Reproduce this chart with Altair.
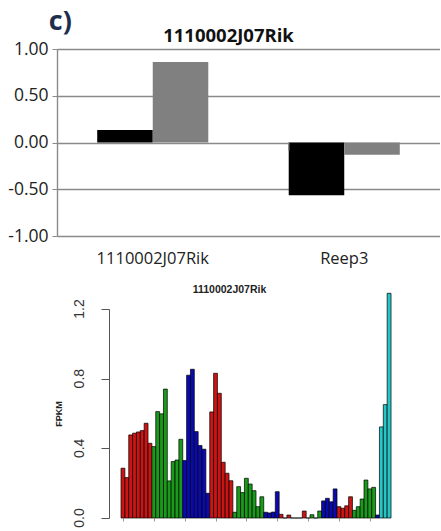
import altair as alt
import pandas as pd

# ---- top panel: relative change for two genes ----
genes = ["1110002J07Rik", "Reep3"]
series_names = ["A", "B"]
series_a = [0.135, -0.563]
series_b = [0.86, -0.132]

# ---- bottom panel: FPKM per sample, grouped by tissue colour ----
group_keys = ["red", "green", "blue", "red", "green", "blue", "red",
              "green", "blue", "red", "green", "blue", "cyan"]
group_sizes = [8, 8, 7, 6, 8, 4, 7, 4, 4, 4, 6, 1, 3]
fpkm = [
    0.286, 0.232, 0.477, 0.487, 0.494, 0.502, 0.544, 0.429,
    0.41, 0.611, 0.598, 0.74, 0.213, 0.324, 0.333, 0.452,
    0.33, 0.82, 0.854, 0.496, 0.416, 0.395, 0.142,
    0.609, 0.831, 0.716, 0.32, 0.257, 0.214,
    0.033, 0.18, 0.146, 0.228, 0.195, 0.157, 0.065, 0.122,
    0.033, 0.029, 0.034, 0.151,
    0.021, 0.0, 0.017, 0.0, 0.0, 0.0, 0.04,
    0.0, 0.019, 0.0, 0.04,
    0.098, 0.113, 0.093, 0.167,
    0.065, 0.056, 0.07, 0.122,
    0.044, 0.065, 0.109, 0.218, 0.167, 0.176,
    0.017,
    0.523, 0.651, 1.29,
]
fpkm_ticks = [0.0, 0.2, 0.4, 0.6, 0.8, 1.0, 1.2]
fpkm_labels = [0.0, 0.4, 0.8, 1.2]
color_keys = ["red", "green", "blue", "cyan"]
color_values = ["#cc1414", "#1a9a1a", "#0a0ab0", "#26c6c6"]

GRID = "#8a8a8a"

top_df = pd.DataFrame({
    "gene": genes * 2,
    "series": [series_names[0]] * len(genes) + [series_names[1]] * len(genes),
    "value": series_a + series_b,
})
divider_df = pd.DataFrame({"gene": [genes[1]], "y0": [0.0], "y1": [-0.09]})

x_top = alt.X(
    "gene:N",
    sort=genes,
    scale=alt.Scale(paddingInner=0.42, paddingOuter=0.21),
    axis=alt.Axis(title=None, labelAngle=0, ticks=False, domain=False,
                  labelPadding=14, labelFontSize=16.5, labelFont="Open Sans",
                  labelColor="#222"),
)

bars_top = alt.Chart(top_df).mark_bar().encode(
    x=x_top,
    xOffset=alt.XOffset("series:N", sort=series_names),
    y=alt.Y(
        "value:Q",
        scale=alt.Scale(domain=[-1, 1], nice=False),
        axis=alt.Axis(title=None, values=[-1, -0.5, 0, 0.5, 1],
                      labelExpr="replace(format(datum.value, '.2f'), '\u2212', '-')",
                      labelFontSize=17.5, labelFont="Open Sans", labelColor="#222",
                      gridColor=GRID, gridWidth=1.4, domainColor=GRID,
                      domainWidth=1.4, tickColor=GRID, tickSize=5,
                      labelPadding=4),
    ),
    color=alt.Color("series:N", scale=alt.Scale(domain=series_names,
                                                 range=["#000000", "#808080"]),
                    legend=None),
)

divider = alt.Chart(divider_df).mark_rule(color=GRID, strokeWidth=1.4).encode(
    x=alt.X("gene:N", sort=genes, bandPosition=0),
    y="y0:Q",
    y2="y1:Q",
)

top = alt.layer(bars_top, divider).properties(
    width=383,
    height=187,
    title=alt.Title("1110002J07Rik", fontSize=18.5, fontWeight="bold",
                    font="Open Sans", color="#111", offset=-5, dx=-20),
)

# bottom panel data
rows = []
i = 0
for key, n in zip(group_keys, group_sizes):
    for _ in range(n):
        rows.append({"x0": i, "x1": i + 1, "fpkm": fpkm[i], "tissue": key})
        i += 1
bot_df = pd.DataFrame(rows)
label_df = pd.DataFrame({"v": fpkm_labels,
                         "txt": [f"{v:.1f}" for v in fpkm_labels]})

y_bot = alt.Y(
    "fpkm:Q",
    scale=alt.Scale(domain=[0, 1.2], nice=False),
    axis=alt.Axis(title="FPKM", values=fpkm_ticks, labels=False, grid=False,
                  domainColor="#555", tickColor="#555", tickSize=8,
                  offset=-52, titleFont="Liberation Sans", titleFontSize=9,
                  titleFontWeight="bold", titleColor="#222", titlePadding=37),
)

bars_bot = alt.Chart(bot_df).mark_bar(stroke="black", strokeWidth=0.7).encode(
    x=alt.X(
        "x0:Q",
        scale=alt.Scale(domain=[-16.6, 82.7], nice=False, zero=False),
        axis=alt.Axis(title=None, labels=False, domain=False, grid=False,
                      values=[k + 0.5 for k in range(len(fpkm))],
                      tickSize=3, tickColor="#999"),
    ),
    x2="x1:Q",
    y=y_bot,
    y2=alt.datum(0),
    color=alt.Color("tissue:N", scale=alt.Scale(domain=color_keys, range=color_values),
                    legend=None),
)

# rotated tick labels (R style, reading bottom to top), placed on the x scale
tick_text = alt.Chart(label_df).mark_text(
    angle=270, align="center", baseline="middle", fontSize=14,
    font="Liberation Sans", color="#333",
).encode(
    x=alt.datum(-10.6),
    y=alt.Y("v:Q"),
    text="txt:N",
)

bottom = alt.layer(bars_bot, tick_text).properties(
    width=383,
    height=209,
    title=alt.Title("1110002J07Rik", fontSize=10.5, fontWeight="bold",
                    font="Liberation Sans", color="#222", dx=-19, offset=-3),
)

chart = alt.vconcat(top, bottom, spacing=18).resolve_scale(
    color="independent"
).properties(
    title=alt.Title("c)", anchor="start", fontSize=27, fontWeight="bold",
                    font="Open Sans", color="#1f2d4d", dx=41, offset=-9),
    padding={"left": 7, "top": 7, "right": 0, "bottom": 5},
).configure_view(stroke=None)

chart.save("out.html", embed_options={"renderer": "svg", "actions": False})
